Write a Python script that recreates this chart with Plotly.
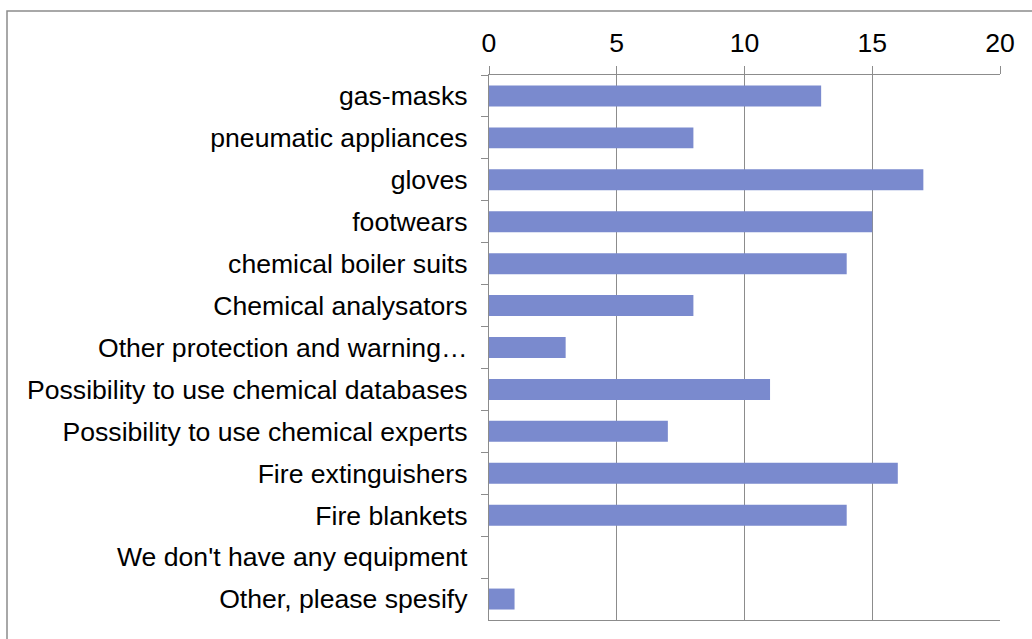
import plotly.graph_objects as go

categories = [
    "gas-masks",
    "pneumatic appliances",
    "gloves",
    "footwears",
    "chemical boiler suits",
    "Chemical analysators",
    "Other protection and warning…",
    "Possibility to use chemical databases",
    "Possibility to use chemical experts",
    "Fire extinguishers",
    "Fire blankets",
    "We don't have any equipment",
    "Other, please spesify",
]
values = [13, 8, 17, 15, 14, 8, 3, 11, 7, 16, 14, 0, 1]
x_ticks = [0, 5, 10, 15, 20]

W, H = 1032, 639
L, R, T, B = 489, 1000, 75, 620

fig = go.Figure(go.Bar(
    x=values, y=categories, orientation="h",
    marker=dict(color="#7A8ACE", line=dict(width=0)),
))

grid = "#8C8C8C"
fig.update_layout(
    width=W, height=H,
    margin=dict(l=L, r=W - R, t=T, b=H - B),
    paper_bgcolor="white", plot_bgcolor="white",
    bargap=0.5, showlegend=False,
    font=dict(family="Liberation Sans, Arial, sans-serif", size=26.6, color="black"),
    xaxis=dict(
        side="top", range=[0, 20], tickvals=x_ticks,
        showgrid=True, gridcolor=grid, gridwidth=1.3,
        showline=True, linecolor=grid, linewidth=1.3, mirror=True,
        ticks="outside", ticklen=8, tickcolor=grid, tickwidth=1.3,
        zeroline=False, ticklabelstandoff=3,
    ),
    yaxis=dict(
        type="category", categoryorder="array", categoryarray=categories,
        autorange="reversed", tickson="boundaries",
        showgrid=False, showline=True, linecolor=grid, linewidth=1.3,
        ticks="outside", ticklen=7, tickcolor=grid, tickwidth=1.3,
        ticklabelstandoff=15,
    ),
    shapes=[dict(
        type="rect", xref="paper", yref="paper",
        x0=(7 - L) / (R - L), x1=1.2,
        y0=-0.2, y1=1 + (T - 11) / (B - T),
        line=dict(color="#8C8C8C", width=1.5), fillcolor="rgba(0,0,0,0)",
        layer="below",
    )],
)

fig.write_html("out.html", config={"displayModeBar": False},
               post_script="document.body.style.margin='0px';")
